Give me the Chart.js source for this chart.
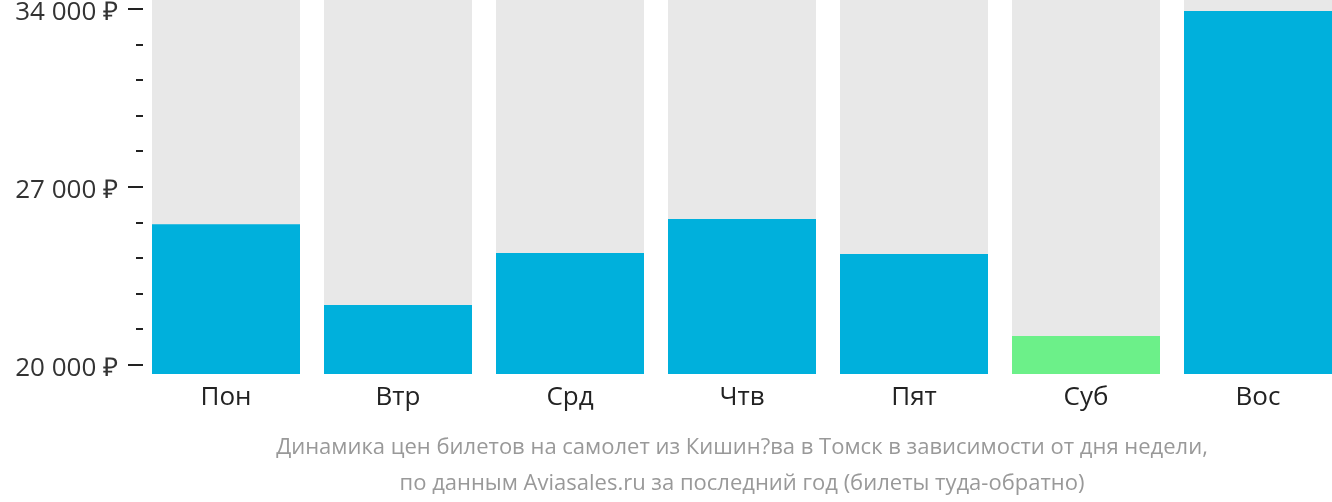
<!DOCTYPE html>
<html>
<head>
<meta charset="utf-8">
<script src="https://cdn.jsdelivr.net/npm/chart.js@4"></script>
<style>
  html, body { margin: 0; padding: 0; background: #fff; overflow: hidden; }
  #wrap { position: relative; width: 1332px; height: 502px; overflow: hidden; }
  #chart { position: absolute; left: 0; top: 0; }
  .note {
    position: absolute; left: 140px; width: 1204px; text-align: center;
    font-family: "Liberation Sans Narrow", "Open Sans", sans-serif;
    font-size: 22px; color: #999; white-space: nowrap;
  }
</style>
</head>
<body>
<div id="wrap">
  <canvas id="chart" width="1344" height="502" style="width:1344px;height:502px"></canvas>
  <div class="note" style="top:430px">Динамика цен билетов на самолет из Кишин?ва в Томск в зависимости от дня недели,</div>
  <div class="note" style="top:466px">по данным Aviasales.ru за последний год (билеты туда-обратно)</div>
</div>
<script>
// Данные
const days = ['Пон', 'Втр', 'Срд', 'Чтв', 'Пят', 'Суб', 'Вос'];
const prices = [25500, 22320, 24370, 25700, 24330, 21100, 33880];
const tickValues = [20000, 21400, 22800, 24200, 25600, 27000, 28400, 29800, 31200, 32600, 34000];
const majorTicks = [20000, 27000, 34000];
const yMin = 19607;
const yMax = 34315;

const cheapest = Math.min(...prices);
const barColors = prices.map(p => p === cheapest ? '#6cf089' : '#00b0dc');

function rub(v) {
    return String(v).replace(/\B(?=(\d{3})+(?!\d))/g, ' ') + ' ₽';
}

// tick marks left of the plot (major long, minor short)
const tickMarks = {
    id: 'tickMarks',
    afterDraw(chart) {
        const ctx = chart.ctx;
        const yScale = chart.scales.y;
        const x1 = chart.chartArea.left + 3;
        ctx.save();
        ctx.strokeStyle = '#222';
        ctx.lineWidth = 2;
        yScale.ticks.forEach(t => {
            const y = Math.round(yScale.getPixelForValue(t.value)) + 1;
            const len = majorTicks.includes(t.value) ? 15 : 7;
            ctx.beginPath();
            ctx.moveTo(x1 - len, y);
            ctx.lineTo(x1, y);
            ctx.stroke();
        });
        ctx.restore();
    }
};

new Chart(document.getElementById('chart'), {
    type: 'bar',
    data: {
        labels: days,
        datasets: [
            {
                data: prices,
                backgroundColor: barColors,
                grouped: false,
                order: 0,
                barPercentage: 148 / 172,
                categoryPercentage: 1
            },
            {
                data: days.map(() => yMax),
                backgroundColor: '#e8e8e8',
                grouped: false,
                order: 1,
                barPercentage: 148 / 172,
                categoryPercentage: 1
            }
        ]
    },
    options: {
        responsive: false,
        animation: false,
        layout: { padding: 0 },
        plugins: { legend: { display: false }, tooltip: { enabled: false } },
        scales: {
            x: {
                grid: { display: false },
                border: { display: false },
                ticks: { color: '#222', font: { family: 'Open Sans', size: 26 }, padding: 0 },
                afterFit(scale) { scale.height = 128; }
            },
            y: {
                min: yMin,
                max: yMax,
                grid: { display: false },
                border: { display: false },
                afterBuildTicks(scale) { scale.ticks = tickValues.map(v => ({ value: v })); },
                afterFit(scale) {
                    scale.width = 140;
                    scale.paddingTop = 0;
                    scale.paddingBottom = 0;
                },
                ticks: {
                    color: '#333',
                    font: { family: 'Open Sans', size: 26 },
                    padding: 14,
                    labelOffset: 5,
                    callback: v => majorTicks.includes(v) ? rub(v) : ''
                }
            }
        }
    },
    plugins: [tickMarks]
});
</script>
</body>
</html>
